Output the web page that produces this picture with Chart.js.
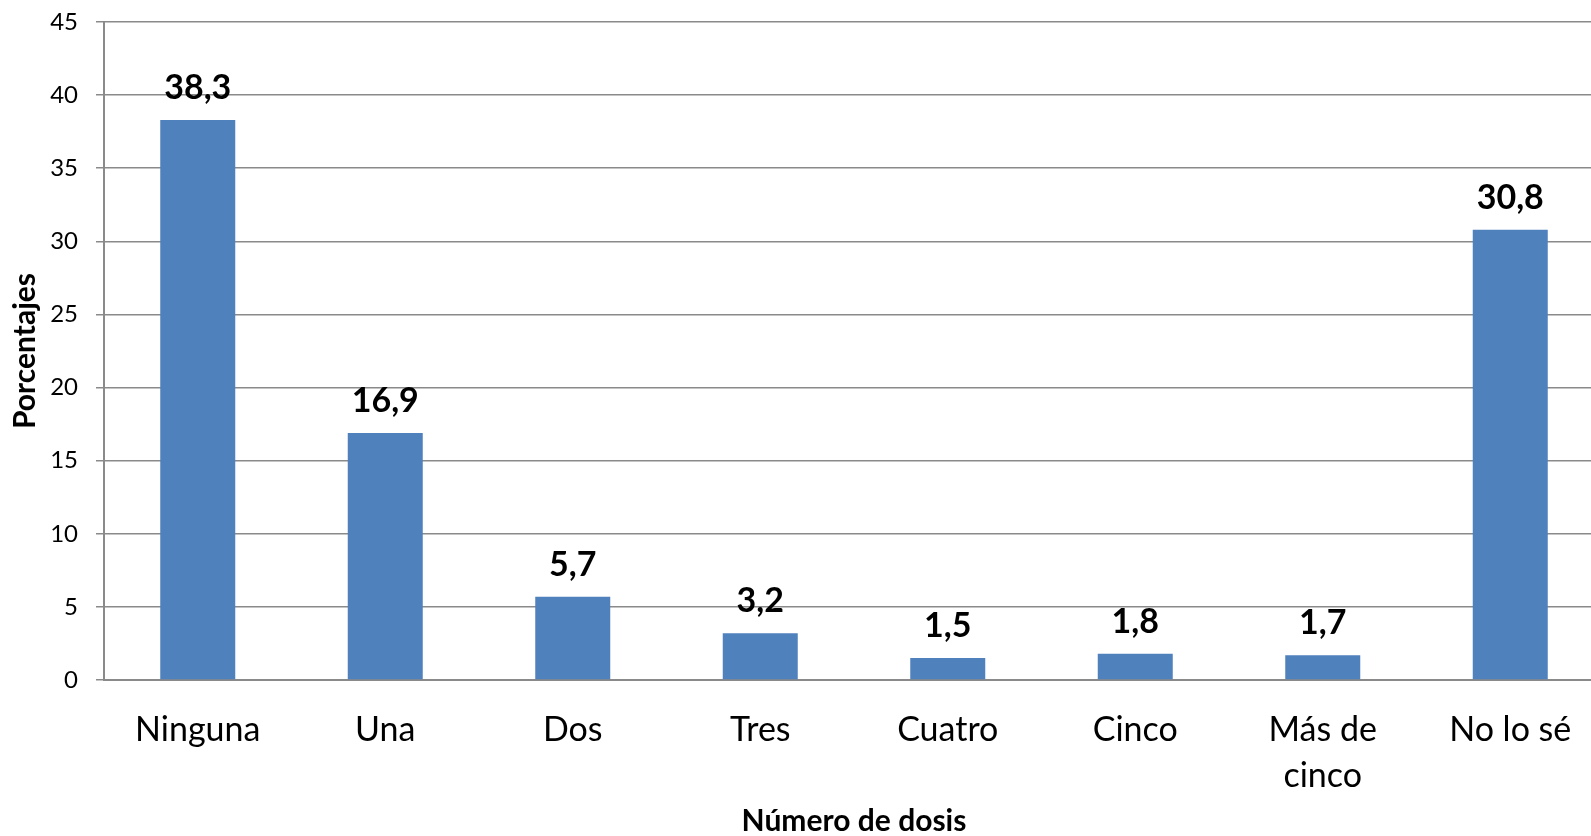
<!DOCTYPE html>
<html>
<head>
<meta charset="utf-8">
<script src="https://cdn.jsdelivr.net/npm/chart.js@4"></script>
<style>
  html, body { margin: 0; padding: 0; background: #fff; overflow: hidden; }
  #wrap { width: 1604px; height: 836px; }
</style>
</head>
<body>
<div id="wrap"><canvas id="bar-chart" width="1604" height="836"></canvas></div>
<script>
const categorias = ['Ninguna', 'Una', 'Dos', 'Tres', 'Cuatro', 'Cinco', ['Más de', 'cinco'], 'No lo sé'];
const porcentajes = [38.3, 16.9, 5.7, 3.2, 1.5, 1.8, 1.7, 30.8];
const ticks_y = [0, 5, 10, 15, 20, 25, 30, 35, 40, 45];

const gris = '#8a8a8a';

// etiquetas encima de cada barra (sin plugin externo)
const etiquetas = {
    id: 'etiquetas',
    afterDatasetsDraw(chart) {
        const ctx = chart.ctx;
        const meta = chart.getDatasetMeta(0);
        ctx.save();
        ctx.font = 'bold 34px Lato';
        ctx.fillStyle = '#000';
        ctx.textAlign = 'center';
        ctx.textBaseline = 'alphabetic';
        meta.data.forEach((bar, i) => {
            const txt = porcentajes[i].toFixed(1).replace('.', ',');
            ctx.fillText(txt, bar.x, bar.y - 21);
        });
        ctx.restore();
    }
};

const ctx = document.getElementById('bar-chart').getContext('2d');
const myChart = new Chart(ctx, {
    type: 'bar',
    data: {
        labels: categorias,
        datasets: [{
            label: 'Porcentajes',
            data: porcentajes,
            backgroundColor: '#4f81bd',
            borderWidth: 0,
            barPercentage: 0.4,
            categoryPercentage: 1
        }]
    },
    options: {
        responsive: false,
        animation: false,
        layout: { padding: { top: 22, left: 0, right: 0, bottom: 0 } },
        plugins: {
            legend: { display: false },
            tooltip: { enabled: false }
        },
        scales: {
            x: {
                grid: { display: false },
                border: { display: true, color: gris, width: 2 },
                ticks: {
                    color: '#000',
                    font: { family: 'Lato', size: 34, lineHeight: 1.35 },
                    padding: 19,
                    maxRotation: 0,
                    autoSkip: false
                },
                title: {
                    display: true,
                    text: 'Número de dosis',
                    color: '#000',
                    font: { family: 'Lato', size: 30, weight: 'bold', lineHeight: 1.0 },
                    padding: { top: 0, bottom: 0 }
                },
                afterFit(scale) { scale.height = 156; }
            },
            y: {
                min: 0,
                max: 45,
                afterBuildTicks(scale) { scale.ticks = ticks_y.map(v => ({ value: v })); },
                grid: { color: gris, lineWidth: 1.5, tickLength: 8, drawTicks: true },
                border: { display: true, color: gris, width: 2 },
                ticks: {
                    color: '#000',
                    font: { family: 'Lato', size: 24 },
                    padding: 18
                },
                title: {
                    display: true,
                    text: 'Porcentajes',
                    color: '#000',
                    font: { family: 'Lato', size: 30, weight: 'bold', lineHeight: 1.2 },
                    padding: { top: 7, bottom: 0 }
                },
                afterFit(scale) {
                    scale.width = 104;
                    // el padding de las etiquetas empujaba el área hacia abajo
                    scale.paddingTop = 0;
                    scale.paddingBottom = 0;
                }
            }
        }
    },
    plugins: [etiquetas]
});
</script>
</body>
</html>
